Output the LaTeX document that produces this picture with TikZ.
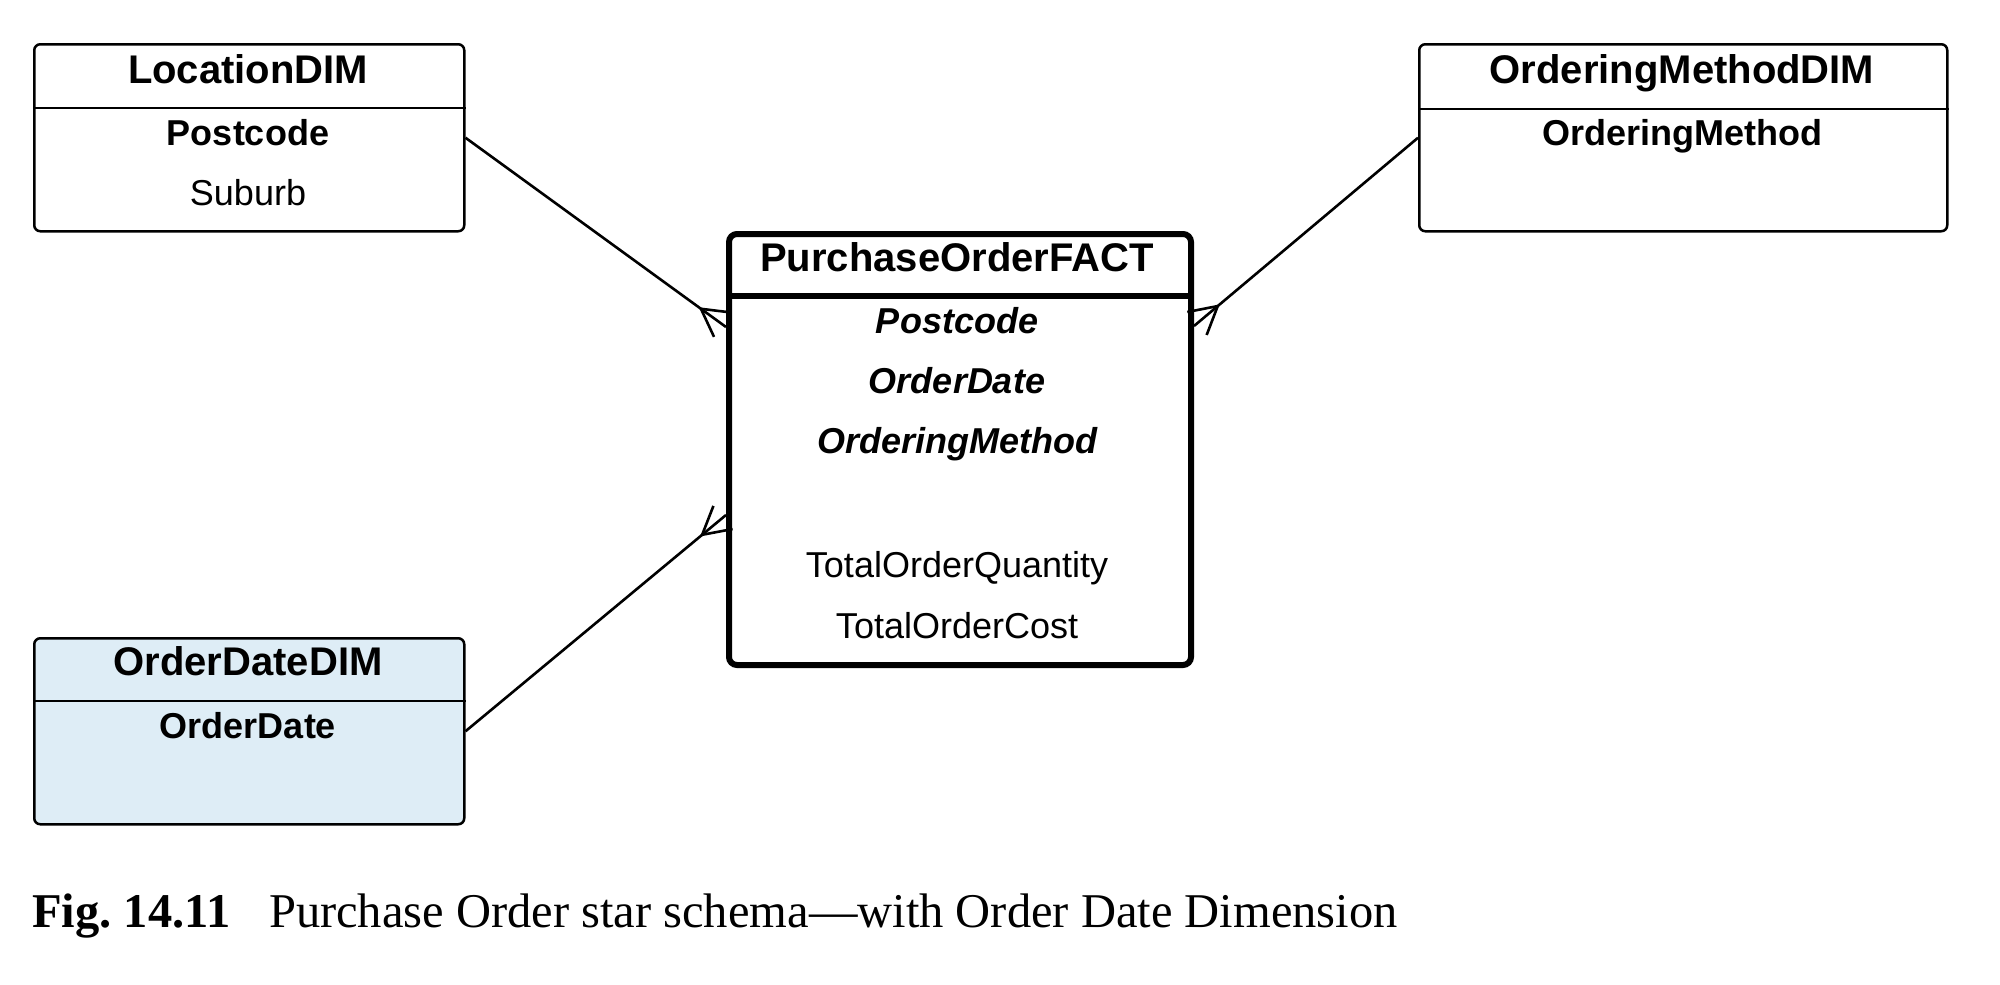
\documentclass[tikz,border=0pt]{standalone}
\usepackage{fontspec}
\setmainfont{Liberation Serif}
\setsansfont{Liberation Sans}
\usetikzlibrary{calc}
\definecolor{dimblue}{RGB}{222,237,246}
\newcommand\crowfoot[2]{% #2 is the many side
  \draw[link] (#1) -- (#2);
  \coordinate (cf) at ($(#2)!31pt!(#1)$);
  \draw[link] ($(cf)!1!29:(#2)$) -- (cf) -- ($(cf)!1!-29:(#2)$);
}
\begin{document}
\begin{tikzpicture}[
  x=1pt,y=-1pt,
  every node/.style={font=\sffamily,align=center,inner sep=0pt},
  tbl/.style={draw,line width=2.5pt,rounded corners=6pt,anchor=north west},
  facttbl/.style={tbl,line width=6pt,rounded corners=8pt},
  ttl/.style={anchor=base,font=\sffamily\bfseries\fontsize{40}{42}\selectfont},
  pkey/.style={anchor=base,font=\sffamily\bfseries\fontsize{36}{38}\selectfont},
  fkey/.style={anchor=base,font=\sffamily\bfseries\itshape\fontsize{36}{38}\selectfont},
  attr/.style={anchor=base,font=\sffamily\fontsize{36}{38}\selectfont},
  link/.style={line width=2.6pt}
]
\useasboundingbox (0,0) rectangle (2000,985);
% tables
\node[tbl,minimum width=430pt,minimum height=187pt] (loc) at (33,43) {};
\node[tbl,minimum width=528pt,minimum height=187pt] (meth) at (1418,43) {};
\node[tbl,fill=dimblue,minimum width=430pt,minimum height=186pt] (date) at (33,637) {};
\node[facttbl,minimum width=462pt,minimum height=431pt] (fact) at (726,231) {};
\draw[line width=2.5pt] ($(loc.north west)+(0,65)$) -- ($(loc.north east)+(0,65)$);
\draw[line width=2.5pt] ($(meth.north west)+(0,66)$) -- ($(meth.north east)+(0,66)$);
\draw[line width=2.5pt] ($(date.north west)+(0,64)$) -- ($(date.north east)+(0,64)$);
\draw[line width=6pt] ($(fact.north west)+(0,65)$) -- ($(fact.north east)+(0,65)$);
% texts
\node[ttl] (loc-t) at (248,83) {LocationDIM};
\node[pkey] (loc-pc) at (248,145) {Postcode};
\node[attr] (loc-sub) at (248,205) {Suburb};
\node[ttl] (meth-t) at (1682,83) {OrderingMethodDIM};
\node[pkey] (meth-om) at (1682,145) {OrderingMethod};
\node[ttl] (date-t) at (248,675) {OrderDateDIM};
\node[pkey] (date-od) at (248,738) {OrderDate};
\node[ttl] (fact-t) at (957,271) {PurchaseOrderFACT};
\node[fkey] (fact-pc) at (957,333) {Postcode};
\node[fkey] (fact-od) at (957,393) {OrderDate};
\node[fkey] (fact-om) at (957,453) {OrderingMethod};
\node[attr] (fact-q) at (957,577) {TotalOrderQuantity};
\node[attr] (fact-c) at (957,638) {TotalOrderCost};
% links
\coordinate (fk-loc) at ($(fact.north west)+(0,96)$);
\coordinate (fk-meth) at ($(fact.north east)+(0,95)$);
\coordinate (fk-date) at ($(fact.north west)+(0,284)$);
\crowfoot{loc.east}{fk-loc}
\crowfoot{meth.west}{fk-meth}
\crowfoot{date.east}{fk-date}
% caption
\node[anchor=base west,font=\rmfamily\fontsize{48.5}{51}\selectfont] (cap) at (32,927)
  {\textbf{Fig.\ 14.11}\hspace{0.8em}Purchase Order star schema---with Order Date Dimension};
\end{tikzpicture}
\end{document}
